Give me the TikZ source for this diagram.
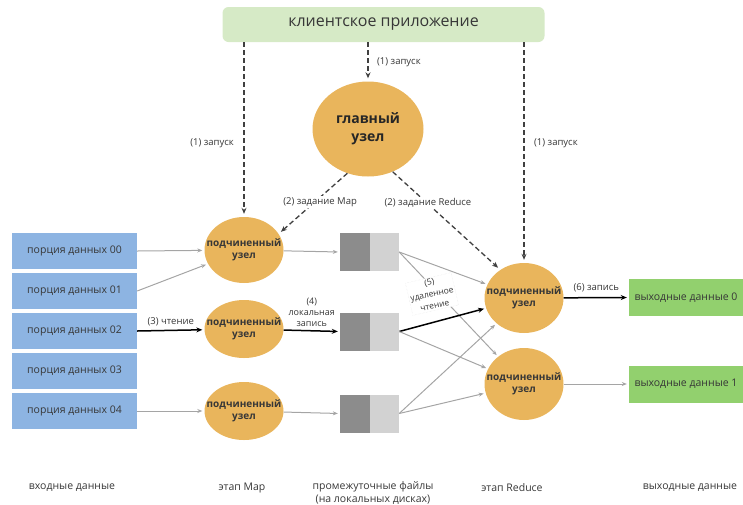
\documentclass[tikz,border=0pt]{standalone}
\usepackage{fontspec}
\setmainfont{Open Sans}
\usetikzlibrary{shapes.geometric,arrows.meta}
\definecolor{nodeorange}{RGB}{233,181,92}
\definecolor{inblue}{RGB}{141,180,226}
\definecolor{outgreen}{RGB}{146,208,110}
\definecolor{clientgreen}{RGB}{214,234,198}
\definecolor{filedark}{RGB}{140,140,140}
\definecolor{filelight}{RGB}{210,210,210}
\definecolor{arrowgray}{RGB}{165,165,165}
\definecolor{textdark}{RGB}{55,55,55}

\begin{document}
\begin{tikzpicture}[x=1pt,y=-1pt,
    worker/.style={ellipse,fill=nodeorange,minimum width=79pt,minimum height=66pt,
      inner xsep=-10pt,inner ysep=0pt,align=center,text=textdark,font=\fontsize{10}{12}\selectfont\bfseries},
    inbox/.style={rectangle,fill=inblue,minimum width=125pt,minimum height=36pt,
      text=textdark,font=\fontsize{10.5}{12}\selectfont},
    outbox/.style={rectangle,fill=outgreen,minimum width=114pt,minimum height=37pt,
      text=textdark,font=\fontsize{10.5}{12}\selectfont},
    filebox/.style={rectangle,fill=filelight,minimum width=59pt,minimum height=38pt,
      path picture={\fill[filedark] (path picture bounding box.south west)
        rectangle (path picture bounding box.north);}},
    lbl/.style={text=textdark,font=\fontsize{9.5}{11}\selectfont,inner sep=1.5pt},
    footer/.style={text=textdark,font=\fontsize{10.5}{12.5}\selectfont,align=center},
    grayarrow/.style={draw=arrowgray,line width=1pt,-{Stealth[length=5pt,width=4pt]},shorten >=2pt},
    blackarrow/.style={draw=black,line width=1.5pt,-{Stealth[length=6pt,width=5pt]},shorten >=2pt},
    dasharrow/.style={draw=black!75,line width=1.3pt,dash pattern=on 5pt off 3pt,
      -{Stealth[length=6pt,width=5pt]},shorten >=3pt}]
    \useasboundingbox (0,0) rectangle (743,504);
    % client and master
    \node[rectangle,rounded corners=6pt,fill=clientgreen,minimum width=322pt,minimum height=35pt,
      text=textdark,font=\fontsize{16}{18}\selectfont] (client) at (383.5,24.5) {клиентское приложение};
    \node[ellipse,fill=nodeorange,minimum width=111pt,minimum height=95pt,align=center,
      text=black!85,font=\fontsize{14}{18}\selectfont\bfseries] (master) at (368,129) {главный\\узел};
    % input splits
    \foreach \i in {0,...,4}
        \node[inbox] (in\i) at (74.5,{251+40*\i}) {порция данных 0\i};
    % workers
    \node[worker] (map1) at (244,250) {подчиненный\\узел};
    \node[worker,minimum height=58pt] (map2) at (244,329) {подчиненный\\узел};
    \node[worker,minimum height=58pt] (map3) at (244,411) {подчиненный\\узел};
    \node[worker,minimum height=70pt] (red1) at (524,298) {подчиненный\\узел};
    \node[worker,minimum height=72pt] (red2) at (524,384) {подчиненный\\узел};
    % intermediate files
    \foreach \n/\y in {1/252,2/331.5,3/413.5}
        \node[filebox] (file\n) at (369.5,\y) {};
    % output
    \node[outbox] (out0) at (686,297.5) {выходные данные 0};
    \node[outbox] (out1) at (686,384) {выходные данные 1};

    %(1) launch
    \draw[dasharrow] (client.south -| map1.north) -- node[lbl,left=8pt,pos=0.58] {(1) запуск} (map1.north);
    \draw[dasharrow] (client.south -| master.north) -- node[lbl,right=7pt] {(1) запуск} (master.north);
    \draw[dasharrow] (client.south -| red1.north) -- node[lbl,right=8pt,pos=0.46] {(1) запуск} (red1.north);
    %(2) tasks
    \draw[dasharrow] (master.-115) -- node[lbl,fill=white,pos=0.47,xshift=5pt] {(2) задание Map} (map1.25);
    \draw[dasharrow] (master.-60) -- node[lbl,fill=white,pos=0.3,xshift=3pt,yshift=-2pt] {(2) задание Reduce} (red1.130);

    % map phase
    \draw[grayarrow] (in0.east) -- (map1);
    \draw[grayarrow] (in1.east) -- (map1);
    \draw[blackarrow] (in2.east) -- node[lbl,above=2pt] {(3) чтение} (map2);
    \draw[grayarrow] (in4.east) -- (map3);
    \draw[grayarrow] (map1) -- (file1.west);
    \draw[blackarrow] (map2) -- node[lbl,above=2pt,align=center,font=\fontsize{9}{11}\selectfont] {(4)\\локальная\\запись} (file2.west);
    \draw[grayarrow] (map3) -- (file3.west);

    % reduce phase
    \draw[grayarrow] (file1.east) -- (red1);
    \draw[grayarrow] (file1.east) -- (red2);
    \draw[blackarrow] (file2.east) -- (red1);
    \draw[grayarrow] (file2.east) -- (red2);
    \draw[grayarrow] (file3.east) -- (red1);
    \draw[grayarrow] (file3.east) -- (red2);
    \node[lbl,rotate=13,align=center,fill=white,draw=black!10,densely dotted,
      font=\fontsize{8.5}{12}\selectfont] (remote) at (432,294) {(5)\\удаленное\\чтение};
    \draw[blackarrow] (red1) -- node[lbl,above=3pt] {(6) запись} (out0.west);
    \draw[grayarrow] (red2) -- (out1.west);

    % phase captions
    \node[footer] (capin) at (72,488) {входные данные};
    \node[footer] (capmap) at (242,488) {этап Map};
    \node[footer,anchor=north] (capfiles) at (373,478) {промежуточные файлы\\(на локальных дисках)};
    \node[footer] (capred) at (512,488) {этап Reduce};
    \node[footer] (capout) at (690,488) {выходные данные};
\end{tikzpicture}
\end{document}
